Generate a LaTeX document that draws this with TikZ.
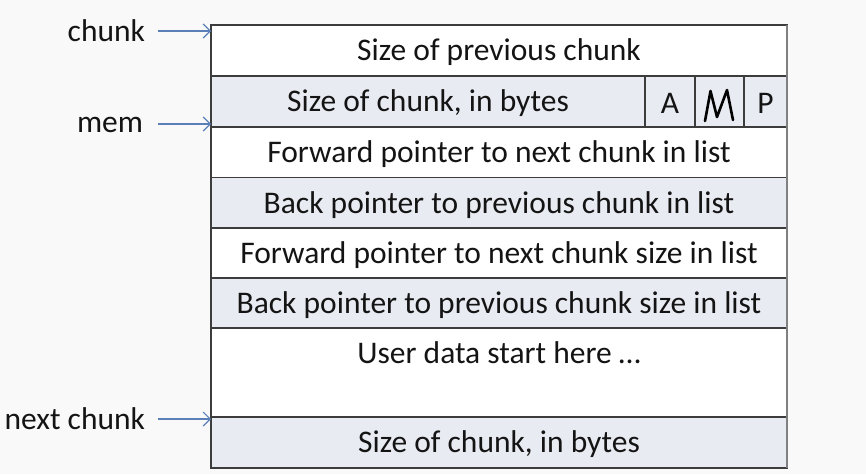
\documentclass[tikz,border=0pt]{standalone}
\usepackage{fontspec}
\setmainfont{Carlito}
\usetikzlibrary{arrows.meta}
\definecolor{pagebg}{HTML}{F9F9F9}
\definecolor{rowshade}{HTML}{E8EBF1}
\definecolor{rule}{HTML}{3C3C3C}
\definecolor{ptrblue}{HTML}{5B80B8}
\begin{document}
\begin{tikzpicture}[x=1pt,y=-1pt,
  every node/.style={inner sep=0pt,outer sep=0pt,font=\fontsize{31.5}{34}\selectfont,text=black!92},
  cell/.style={draw=rule,line width=1.6pt,fill=white,minimum height=#1,anchor=north west},
  cell/.default=51pt,
  shaded/.style={fill=rowshade},
  field/.style={yshift=-2pt},
  ptr/.style={draw=ptrblue,line width=1.2pt,-{Straight Barb[length=7pt,width=14pt,line width=1.2pt]}},
  tag/.style={anchor=east}]
\useasboundingbox[fill=pagebg] (0,0) rectangle (866,474);

% chunk layout, one row per field
\node[cell,minimum width=576pt] (r1) at (211,25) {};
\node[cell,shaded,minimum width=434pt] (r2) at (211,76) {};
\node[cell,shaded,minimum width=50pt] (fa) at (645,76) {};
\node[cell,shaded,minimum width=49pt] (fm) at (695,76) {};
\node[cell,shaded,minimum width=43pt] (fp) at (744,76) {};
\node[cell,minimum width=576pt] (r3) at (211,127) {};
\node[cell,shaded,minimum width=576pt] (r4) at (211,177.5) {};
\node[cell,minimum width=576pt] (r5) at (211,228) {};
\node[cell,shaded,minimum width=576pt] (r6) at (211,278) {};
\node[cell=89pt,minimum width=576pt] (r7) at (211,328) {};
\node[cell,shaded,minimum width=576pt] (r8) at (211,417) {};
% lighter right edge
\draw[draw=black!50,line width=1.6pt] (r1.north east) -- (r8.south east);

% field texts
\node[field] (t1) at (r1.center) {Size of previous chunk};
\node[field] (t2) at (r2.center) {Size of chunk, in bytes};
\node[field] (ta) at (fa.center) {A};
\node[field] (tp) at (fp.center) {P};
\node[field] (t3) at (r3.center) {Forward pointer to next chunk in list};
\node[field] (t4) at (r4.center) {Back pointer to previous chunk in list};
\node[field] (t5) at (r5.center) {Forward pointer to next chunk size in list};
\node[field] (t6) at (r6.center) {Back pointer to previous chunk size in list};
\node (ud) at (499,353) {User data start here \dots};
\node[field] (t8) at (r8.center) {Size of chunk, in bytes};

% handwritten M flag
\draw[line width=2.6pt,line cap=round,line join=round]
  (705,121) -- (710.5,91) -- (717,117) -- (727,90) -- (733,120);

% pointer labels
\node[tag] (lchunk) at (145,31) {chunk};
\node[tag] (lmem) at (143,125) {mem};
\node[tag] (lnext) at (145,419) {next chunk};
\draw[ptr] ([xshift=13pt]lchunk.east) -- (lchunk.east -| r1.west);
\draw[ptr] ([xshift=15pt,yshift=1pt]lmem.east) -- ([yshift=1pt]lmem.east -| r1.west);
\draw[ptr] ([xshift=13pt]lnext.east) -- (lnext.east -| r1.west);
\end{tikzpicture}
\end{document}
